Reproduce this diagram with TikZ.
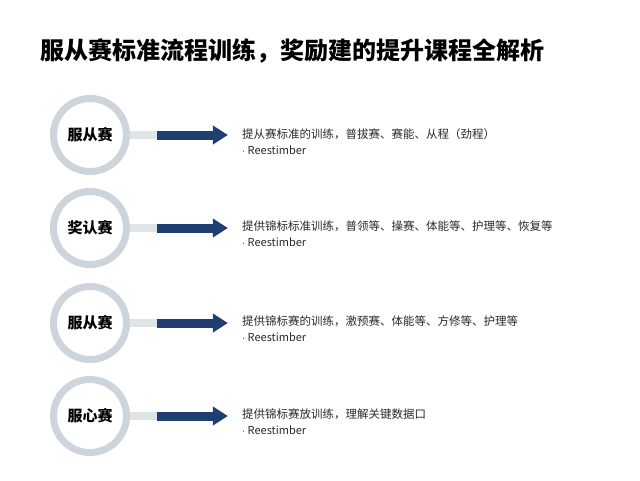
\documentclass[tikz,border=0pt]{standalone}
\usepackage{fontspec}
\setmainfont{Noto Sans CJK SC}
\usetikzlibrary{arrows.meta}
\definecolor{ringgray}{HTML}{CDD4DB}
\definecolor{bargray}{HTML}{DFE4E8}
\definecolor{navy}{HTML}{1E3F70}
\definecolor{textgray}{HTML}{2A2A2A}
\tikzset{
    ring/.style={circle,draw=ringgray,line width=7pt,fill=white,minimum size=73pt,inner sep=0pt,font=\fontsize{15}{15}\selectfont\bfseries},
    bar/.style={bargray,line width=8pt},
    arrowbody/.style={navy,line width=9pt,-{Triangle[width=18pt,length=15pt]}},
    desc/.style={anchor=north west,align=left,inner sep=0pt,text=textgray,font=\fontsize{11.5}{17}\selectfont}
}
\begin{document}
\begin{tikzpicture}[x=1pt,y=-1pt]
    \useasboundingbox(0,0)rectangle(640,480);
    \fill[white](0,0)rectangle(640,480);
    \node[anchor=west,inner sep=0pt,font=\fontsize{24}{24}\selectfont\bfseries](title)at(40,51){服从赛标准流程训练，奖励建的提升课程全解析};
    \foreach \y/\name/\txt [count=\i] in {
        135/服从赛/提从赛标准的训练，普拔赛、赛能、从程（劲程）,
        228/奖认赛/提供锦标标准训练，普领等、操赛、体能等、护理等、恢复等,
        323/服从赛/提供锦标赛的训练，激预赛、体能等、方修等、护理等,
        416/服心赛/提供锦标赛放训练，理解关键数据口}{
        \node[ring](c\i)at(90,\y){\name};
        \coordinate(b\i)at(157,\y);
        \coordinate(t\i)at(228,\y);
        \draw[bar](c\i.east)--(b\i);
        \draw[arrowbody](b\i)--([xshift=-0.1pt]t\i);
        \node[desc](d\i)at(242,\y-7){\txt\\[-1pt]{\fontsize{11}{17}\selectfont$\cdot$ Reestimber}};
    }
\end{tikzpicture}
\end{document}
